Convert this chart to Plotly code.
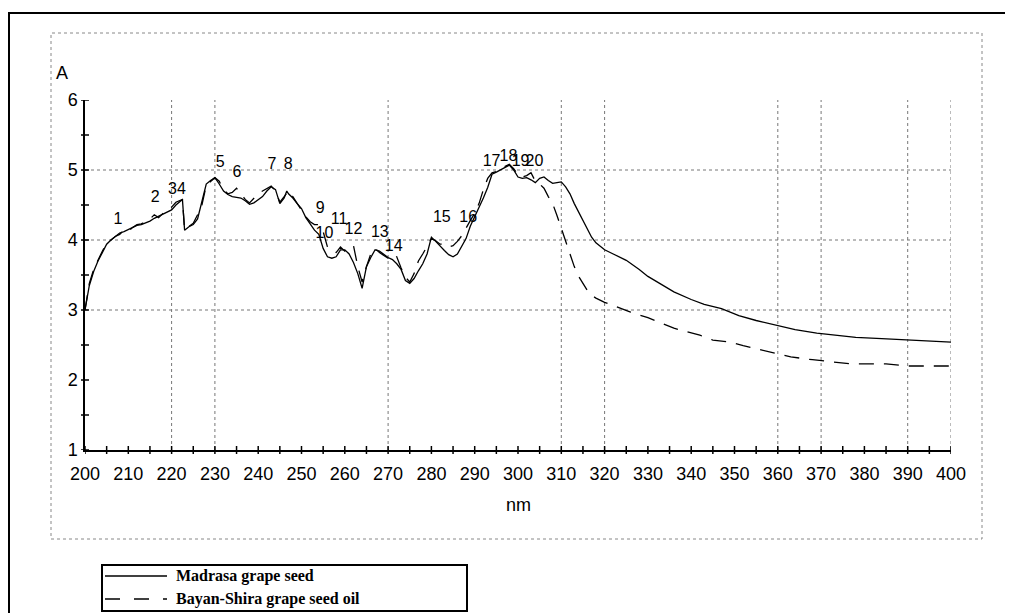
import plotly.graph_objects as go

# ---------------- data ----------------
wl_madrasa = [200, 201, 202, 203, 204, 205, 206, 207, 208, 209, 210, 211, 212, 213, 214, 215, 216, 217, 218, 219,
              220, 221, 222, 222.5, 223, 224, 225, 226, 227, 228, 229, 230, 231, 232, 233, 234, 235, 236, 237, 238,
              239, 240, 241, 242, 243, 244, 245, 246, 246.6, 247, 248, 249, 250, 251, 252, 253, 254, 255, 256, 257,
              258, 259, 260, 261, 262, 263, 264, 265, 266, 267, 268, 269, 270, 271, 272, 273, 274, 275, 276, 277,
              278, 279, 280, 281, 282, 283, 284, 285, 286, 287, 288, 289, 290, 291, 292, 293, 294, 295, 296, 297,
              298, 299, 300, 301, 302, 303, 304, 305, 306, 307, 308, 309, 310, 311, 312, 313, 314, 315, 316, 317,
              318, 320, 322, 325, 328, 330, 333, 336, 340, 343, 347, 351, 355, 359, 364, 369, 374, 378, 384, 390,
              395, 400]
abs_madrasa = [3.00, 3.35, 3.55, 3.70, 3.82, 3.94, 4.00, 4.05, 4.10, 4.12, 4.15, 4.19, 4.21, 4.22, 4.24, 4.27, 4.31, 4.34, 4.36, 4.40,
               4.43, 4.50, 4.56, 4.58, 4.14, 4.19, 4.22, 4.30, 4.55, 4.80, 4.85, 4.89, 4.80, 4.70, 4.65, 4.62, 4.61, 4.60, 4.56, 4.51,
               4.53, 4.57, 4.62, 4.70, 4.76, 4.72, 4.52, 4.60, 4.70, 4.66, 4.60, 4.52, 4.45, 4.32, 4.22, 4.14, 4.08, 3.88, 3.76, 3.74,
               3.76, 3.86, 3.86, 3.80, 3.68, 3.52, 3.31, 3.62, 3.75, 3.86, 3.84, 3.79, 3.75, 3.72, 3.66, 3.58, 3.42, 3.38, 3.45, 3.56,
               3.66, 3.80, 4.04, 3.98, 3.91, 3.85, 3.79, 3.76, 3.80, 3.90, 4.02, 4.20, 4.33, 4.47, 4.60, 4.75, 4.94, 4.97, 5.00, 5.04,
               5.07, 5.00, 4.90, 4.88, 4.89, 4.86, 4.82, 4.88, 4.90, 4.85, 4.81, 4.82, 4.83, 4.76, 4.66, 4.52, 4.40, 4.26, 4.14, 4.04,
               3.96, 3.86, 3.80, 3.71, 3.58, 3.48, 3.37, 3.26, 3.15, 3.08, 3.02, 2.92, 2.85, 2.79, 2.72, 2.67, 2.64, 2.61, 2.59, 2.57,
               2.56, 2.54]

wl_bayan = [200, 201, 202, 203, 204, 205, 206, 207, 208, 209, 210, 211, 212, 213, 214, 215, 216, 217, 218, 219,
            220, 221, 222, 222.5, 223, 224, 225, 226, 227, 228, 229, 230, 231, 232, 233, 234, 235, 236, 237, 238,
            239, 240, 241, 242, 243, 244, 245, 246, 247, 248, 249, 250, 251, 252, 253, 254, 255, 256, 257, 258,
            259, 260, 261, 262, 263, 264, 265, 266, 267, 268, 269, 270, 271, 272, 273, 274, 275, 276, 277, 278,
            279, 280, 281, 282, 283, 284, 285, 286, 287, 288, 289, 290, 291, 292, 293, 294, 295, 296, 297, 298,
            299, 300, 301, 302, 303, 304, 305, 306, 307, 308, 309, 310, 311, 312, 313, 314, 315, 316, 317, 318,
            320, 323, 326, 330, 333, 336, 339, 342, 345, 349, 352, 356, 359, 363, 368, 372, 377, 385, 390, 400]
abs_bayan = [3.00, 3.38, 3.58, 3.72, 3.84, 3.95, 4.00, 4.05, 4.08, 4.14, 4.12, 4.18, 4.22, 4.23, 4.26, 4.30, 4.36, 4.32, 4.38, 4.42,
             4.47, 4.54, 4.57, 4.58, 4.15, 4.19, 4.24, 4.36, 4.50, 4.78, 4.84, 4.89, 4.84, 4.72, 4.66, 4.68, 4.74, 4.66, 4.58, 4.53,
             4.60, 4.66, 4.70, 4.74, 4.77, 4.70, 4.54, 4.62, 4.70, 4.62, 4.52, 4.42, 4.33, 4.26, 4.22, 4.22, 4.12, 3.90, 3.84, 3.82,
             3.90, 3.84, 3.90, 3.92, 3.62, 3.40, 3.62, 3.80, 3.88, 3.82, 3.78, 3.74, 3.70, 3.76, 3.60, 3.47, 3.40, 3.52, 3.70, 3.80,
             3.90, 4.02, 3.99, 3.94, 3.94, 3.90, 3.92, 3.98, 4.06, 4.18, 4.28, 4.38, 4.52, 4.72, 4.88, 4.96, 4.98, 5.02, 5.05, 5.08,
             5.02, 4.93, 4.90, 4.92, 4.96, 4.84, 4.80, 4.74, 4.62, 4.52, 4.35, 4.16, 3.98, 3.80, 3.62, 3.48, 3.38, 3.28, 3.21, 3.17,
             3.11, 3.04, 2.97, 2.89, 2.81, 2.74, 2.69, 2.64, 2.57, 2.54, 2.49, 2.43, 2.39, 2.33, 2.29, 2.26, 2.23, 2.23, 2.20, 2.20]

peak_labels = ["1", "2", "3", "4", "5", "6", "7", "8", "9", "10", "11", "12", "13", "14", "15", "16", "17", "18", "19", "20"]
peak_x = [207.6, 216.2, 220.2, 222.3, 231.2, 235.1, 243.2, 246.9, 254.3, 255.3, 258.7, 262.0, 268.1, 271.3, 282.4, 288.5,
          293.9, 297.8, 300.6, 303.8]
peak_y = [4.29, 4.60, 4.72, 4.72, 5.10, 4.96, 5.07, 5.07, 4.44, 4.08, 4.28, 4.14, 4.10, 3.90, 4.31, 4.31,
          5.11, 5.19, 5.11, 5.11]

x_ticks = list(range(200, 401, 10))
x_minor = list(range(200, 401, 5))
y_ticks = [1, 2, 3, 4, 5, 6]
y_minor = [1, 1.5, 2, 2.5, 3, 3.5, 4, 4.5, 5, 5.5, 6]
grid_x = [220, 230, 270, 310, 320, 360, 370, 390, 400]
grid_y = [3, 4, 5]

series_names = ["Madrasa grape seed", "Bayan-Shira grape seed oil"]

# ---------------- figure ----------------
# page has an 8px body margin; figure pixel = page pixel - 8
OFF = 8
W, H = 1013 - OFF, 613 - OFF
L, T = 85 - OFF, 100 - OFF
pw, ph = 866, 350
R, B = W - L - pw, H - T - ph


def px2paper_x(px):
    return (px - OFF - L) / pw


def px2paper_y(py):
    return (T + ph - (py - OFF)) / ph


TICK_FONT = dict(family="Liberation Sans, Arial, sans-serif", size=18, color="black")
PEAK_FONT = dict(family="Liberation Sans, Arial, sans-serif", size=16, color="black")

fig = go.Figure()
fig.add_trace(go.Scatter(x=wl_madrasa, y=abs_madrasa, mode="lines",
                         line=dict(color="black", width=1.3), name=series_names[0],
                         showlegend=False, hoverinfo="skip"))
fig.add_trace(go.Scatter(x=wl_bayan, y=abs_bayan, mode="lines",
                         line=dict(color="black", width=1.3, dash="15px,10px"), name=series_names[1],
                         showlegend=False, hoverinfo="skip"))
fig.add_trace(go.Scatter(x=peak_x, y=peak_y, mode="text", text=peak_labels,
                         textfont=PEAK_FONT, showlegend=False, hoverinfo="skip", cliponaxis=False))

shapes = []
grid_style = dict(color="#777777", width=1, dash="dot")
for gx in grid_x:
    shapes.append(dict(type="line", xref="x", yref="y", x0=gx, x1=gx, y0=1, y1=6, line=grid_style, layer="below"))
for gy in grid_y:
    shapes.append(dict(type="line", xref="x", yref="y", x0=200, x1=400, y0=gy, y1=gy, line=grid_style, layer="below"))

# crossing ticks
tx = 4 / ph
for xm in x_minor:
    shapes.append(dict(type="line", xref="x", yref="paper", x0=xm, x1=xm, y0=-tx, y1=tx,
                       line=dict(color="black", width=1.5)))
ty = 4 / pw
for ym in y_minor:
    shapes.append(dict(type="line", xref="paper", yref="y", x0=-ty, x1=ty, y0=ym, y1=ym,
                       line=dict(color="black", width=1.5)))

# outer black frame
shapes.append(dict(type="rect", xref="paper", yref="paper",
                   x0=px2paper_x(9), x1=px2paper_x(1030), y0=px2paper_y(640), y1=px2paper_y(13),
                   line=dict(color="black", width=2)))
# inner dotted frame
shapes.append(dict(type="rect", xref="paper", yref="paper",
                   x0=px2paper_x(51), x1=px2paper_x(982), y0=px2paper_y(539), y1=px2paper_y(33),
                   line=dict(color="#888888", width=1, dash="dot")))
# legend box
shapes.append(dict(type="rect", xref="paper", yref="paper",
                   x0=px2paper_x(102), x1=px2paper_x(467), y0=px2paper_y(611), y1=px2paper_y(565),
                   line=dict(color="black", width=2)))
shapes.append(dict(type="line", xref="paper", yref="paper",
                   x0=px2paper_x(105), x1=px2paper_x(167), y0=px2paper_y(576), y1=px2paper_y(576),
                   line=dict(color="black", width=1.3)))
shapes.append(dict(type="line", xref="paper", yref="paper",
                   x0=px2paper_x(105), x1=px2paper_x(167), y0=px2paper_y(599), y1=px2paper_y(599),
                   line=dict(color="black", width=1.3, dash="15px,14px")))

LEG_FONT = dict(family="Liberation Serif, Times New Roman, serif", size=16, color="black")
annotations = [
    dict(text="A", xref="paper", yref="paper", x=px2paper_x(62), y=px2paper_y(73),
         showarrow=False, font=TICK_FONT, xanchor="center", yanchor="middle"),
    dict(text="nm", xref="x", yref="paper", x=300, y=px2paper_y(505),
         showarrow=False, font=TICK_FONT, xanchor="center", yanchor="middle"),
    dict(text="<b>" + series_names[0] + "</b>", xref="paper", yref="paper", x=px2paper_x(174), y=px2paper_y(576),
         showarrow=False, font=LEG_FONT, xanchor="left", yanchor="middle"),
    dict(text="<b>" + series_names[1] + "</b>", xref="paper", yref="paper", x=px2paper_x(174), y=px2paper_y(599),
         showarrow=False, font=LEG_FONT, xanchor="left", yanchor="middle"),
]

fig.update_layout(
    width=W, height=H,
    margin=dict(l=L, r=R, t=T, b=B, pad=0),
    paper_bgcolor="white", plot_bgcolor="white",
    shapes=shapes, annotations=annotations,
    showlegend=False,
    xaxis=dict(range=[200, 400], tickvals=x_ticks, ticktext=[str(v) for v in x_ticks],
               showgrid=False, zeroline=False, showline=True, linecolor="black", linewidth=1.5,
               ticks="", tickfont=TICK_FONT, ticklabelstandoff=7, fixedrange=True),
    yaxis=dict(range=[1, 6], tickvals=y_ticks, ticktext=[str(v) for v in y_ticks],
               showgrid=False, zeroline=False, showline=True, linecolor="black", linewidth=1.5,
               ticks="", tickfont=TICK_FONT, ticklabelstandoff=2, fixedrange=True),
)

fig.write_html("out.html")
